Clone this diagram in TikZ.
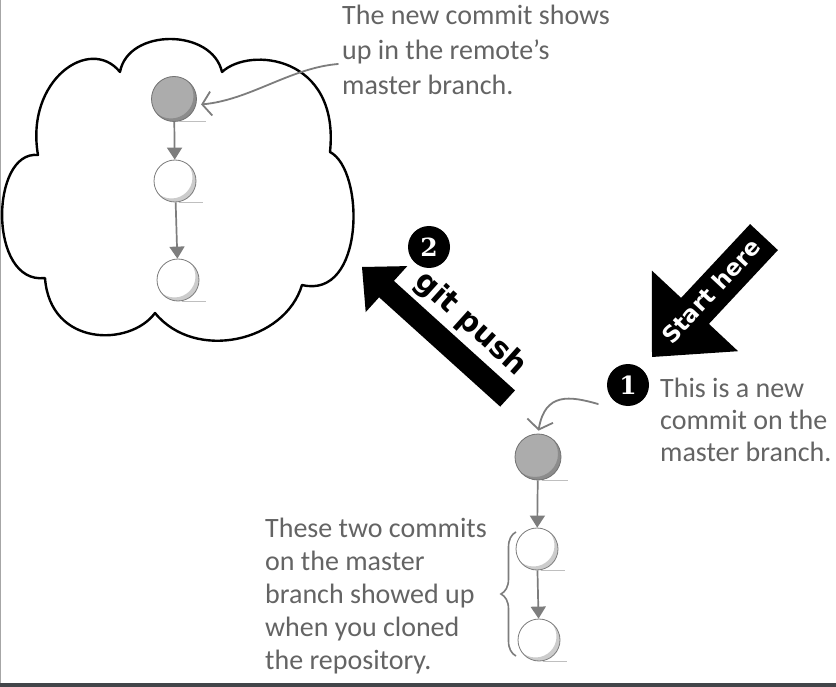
\documentclass[tikz,border=0pt]{standalone}
\usepackage{fontspec}
\setmainfont{Carlito}
\newfontfamily\arrowfont{DejaVu Sans}
\newfontfamily\numfont{DejaVu Serif}
\usetikzlibrary{arrows.meta,decorations.pathreplacing,calc}
\definecolor{inkgray}{RGB}{100,100,100}
\definecolor{linegray}{RGB}{125,125,125}
\definecolor{commitgray}{RGB}{172,172,172}
\definecolor{bargray}{RGB}{66,69,73}
\begin{document}
\begin{tikzpicture}[x=1pt,y=-1pt,
  note/.style={inner sep=0pt, anchor=north west, align=left, text=inkgray},
  commitw/.style={circle, minimum size=#1, inner sep=0pt, draw=linegray, line width=0.8pt, fill=white,
    path picture={\fill[black!20, even odd rule] (path picture bounding box.center) circle (#1/2)
      ([shift={(-3.5pt,3.5pt)}]path picture bounding box.center) circle (#1/2);}},
  commitg/.style={circle, minimum size=#1, inner sep=0pt, draw=black!55, line width=0.8pt, fill=commitgray,
    path picture={\fill[black!45, even odd rule] (path picture bounding box.center) circle (#1/2)
      ([shift={(-3pt,3pt)}]path picture bounding box.center) circle (#1/2);}},
  commitarrow/.style={draw=linegray, line width=1.7pt, -{Triangle[width=15pt,length=12pt]}},
  pointer/.style={draw=linegray, line width=1.8pt, line cap=round, line join=round},
  shadowline/.style={draw=black!25, line width=0.8pt},
  numcirc/.style={circle, fill=black, text=white, minimum size=42pt, inner sep=0pt,
    font=\numfont\bfseries\fontsize{25}{25}\selectfont},
  cloudline/.style={draw=black, line width=2.4pt, line join=round}
]
\useasboundingbox (0,0) rectangle (836,687);
\fill[white] (0,0) rectangle (836,687);
\fill[bargray] (0,683) rectangle (836,687);
\draw[black!35, line width=1pt] (0.5,0) -- (0.5,683);

% cloud
\draw[cloudline]
  (120,72) .. controls (128,28) and (212,28) .. (222,72)
  .. controls (250,46) and (340,56) .. (330,152)
  .. controls (365,170) and (365,300) .. (302,285)
  .. controls (285,342) and (195,362) .. (155,313)
  .. controls (130,347) and (50,347) .. (45,278)
  .. controls (-12,285) and (-10,150) .. (38,155)
  .. controls (25,80) and (90,35) .. (120,72) -- cycle;

% remote commits
\node[commitg=45pt] (r1) at (174,99) {};
\node[commitw=42pt] (r2) at (175,181) {};
\node[commitw=42pt] (r3) at (178,280) {};
\draw[shadowline] ([xshift=4pt]r1.south) -- ++(28,0);
\draw[shadowline] ([xshift=4pt]r2.south) -- ++(24,0);
\draw[shadowline] ([xshift=4pt]r3.south) -- ++(24,0);
\draw[commitarrow] (r1) -- (r2);
\draw[commitarrow] (r2) -- (r3);

% local commits
\node[commitg=46pt] (l1) at (538,457) {};
\node[commitw=42pt] (l2) at (537,549) {};
\node[commitw=42pt] (l3) at (539,640) {};
\draw[shadowline] ([xshift=4pt]l1.south) -- ++(26,0);
\draw[shadowline] ([xshift=4pt]l2.south) -- ++(24,0);
\draw[shadowline] ([xshift=4pt]l3.south) -- ++(24,0);
\draw[commitarrow] (l1) -- (l2);
\draw[commitarrow] (l2) -- (l3);

% git push arrow
\fill[black] (362,267) -- (407.3,266.1) -- (393.9,280.9) -- (515,390.4)
  -- (500.2,406.6) -- (379.1,297.3) -- (365.7,312.1) -- cycle;
\node[numcirc] (two) at (429,247) {2};
\node[rotate=-42, anchor=base, inner sep=0pt, font=\arrowfont\bfseries\fontsize{30}{30}\selectfont]
  (pushlabel) at (465,330) {git push};

% start here arrow
\fill[black] (652,357) -- (738.1,351.2) -- (708.9,323.9) -- (777.9,250.1)
  -- (750.1,224.1) -- (681.1,297.9) -- (651.9,270.6) -- cycle;
\node[rotate=47, text=white, inner sep=0pt, font=\arrowfont\bfseries\fontsize{23}{23}\selectfont]
  (startlabel) at (711,291) {Start here};
\node[numcirc] (one) at (628,385) {1};

% notes
\node[note, font=\fontsize{28}{35}\selectfont] (topnote) at (342,5)
  {The new commit shows\\up in the remote’s\\master branch.};
\node[note, font=\fontsize{28}{32}\selectfont] (rightnote) at (660,378)
  {This is a new\\commit on the\\master branch.};
\node[note, font=\fontsize{28}{33}\selectfont] (leftnote) at (265,518)
  {These two commits\\on the master\\branch showed up\\when you cloned\\the repository.};

% pointers
\coordinate (p2s) at (338,64);
\draw[pointer, shorten >=5pt, -{Straight Barb[length=9pt,width=24pt]}]
  (p2s) .. controls (290,68) and (250,100) .. (r1.-15);
\coordinate (p1s) at (598,404);
\draw[pointer, shorten >=3pt, -{Straight Barb[length=9pt,width=26pt]}]
  (p1s) .. controls (570,396) and (545,392) .. (l1.north);

% brace
\draw[linegray, line width=1.6pt, decorate, decoration={brace, amplitude=15pt}]
  (516,656) -- (516,532);
\end{tikzpicture}
\end{document}
